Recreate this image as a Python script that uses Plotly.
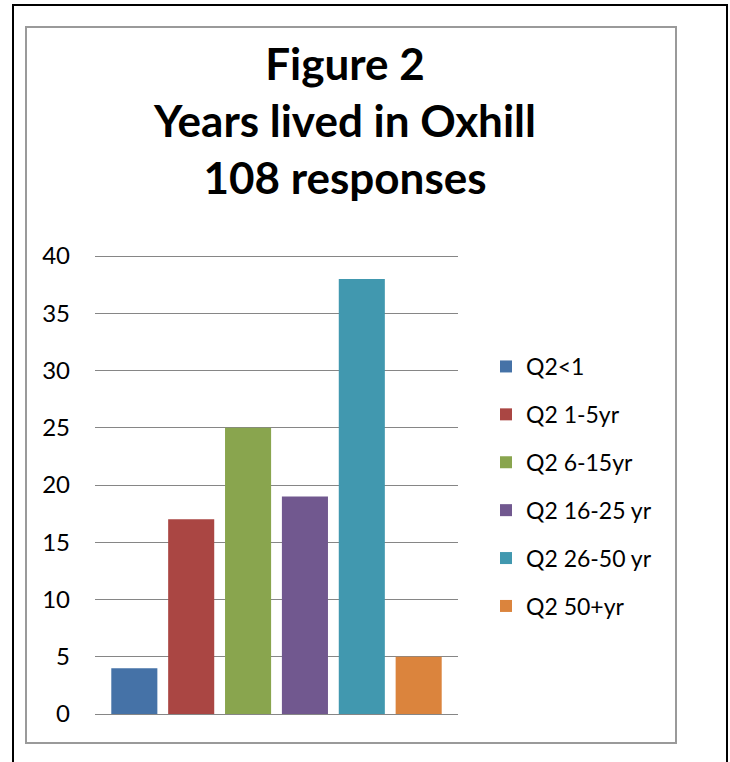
import plotly.graph_objects as go

# ---- data ----
series_names = ["Q2<1", "Q2 1-5yr", "Q2 6-15yr", "Q2 16-25 yr", "Q2 26-50 yr", "Q2 50+yr"]
series_values = [4, 17, 25, 19, 38, 5]
series_colors = ["#4572A7", "#AA4643", "#89A54E", "#71588F", "#4198AF", "#DB843D"]
category = [""]
title_lines = ["Figure 2", "Years lived in Oxhill", "108 responses"]
y_ticks = [0, 5, 10, 15, 20, 25, 30, 35, 40]
y_max = 40

W, H = 730, 762
# pixel rows of value 0 and value 40 in the reference
Y0_PX, YMAX_PX = 714, 256
PX_PER_UNIT = (Y0_PX - YMAX_PX) / y_max
# plot area in screen pixels (top padded by 3px so the 40 gridline is drawn)
SL, SR, ST, SB = 95, 458, YMAX_PX - 3, Y0_PX
range_top = y_max + 3 / PX_PER_UNIT

def px_x(p):
    return (p - SL) / (SR - SL)

def px_y(p):
    return (SB - p) / (SB - ST)

FONT = "Lato, 'Liberation Sans', Arial, sans-serif"

fig = go.Figure()
for name, val, col in zip(series_names, series_values, series_colors):
    fig.add_trace(go.Bar(
        x=category, y=[val], name=name, marker_color=col,
        marker_line_width=0, legendgroup=name,
    ))

fig.update_layout(
    width=W, height=H, autosize=False,
    margin=dict(l=SL, r=W - SR, t=ST, b=H - SB, pad=0),
    paper_bgcolor="white", plot_bgcolor="white",
    barmode="group", bargap=0.06, bargroupgap=0.19,
    font=dict(family=FONT, color="black"),
    title=dict(
        text="<b>" + "<br>".join(title_lines) + "</b>",
        x=345 / W, xanchor="center", xref="container",
        y=1 - 80 / H, yanchor="top",
        font=dict(size=44, family=FONT, color="black"),
    ),
    legend=dict(
        x=px_x(486), xanchor="left", y=px_y(345), yanchor="top",
        font=dict(size=23, family=FONT, color="black"),
        tracegroupgap=15, bgcolor="rgba(0,0,0,0)",
    ),
    showlegend=True,
)
fig.update_xaxes(showticklabels=False, showgrid=False, zeroline=False, showline=False, ticks="")
fig.update_yaxes(
    range=[0, range_top], tickvals=y_ticks, showgrid=True, gridcolor="#868686", gridwidth=1,
    zeroline=True, zerolinecolor="#868686", zerolinewidth=1, showline=False,
    ticks="", ticklabelstandoff=24, tickfont=dict(size=24, family=FONT, color="black"),
)

# outer black frame and inner grey frame
fig.add_shape(type="rect", xref="paper", yref="paper",
              x0=px_x(13), x1=px_x(727), y0=px_y(775), y1=px_y(5),
              line=dict(color="black", width=2), layer="below")
fig.add_shape(type="rect", xref="paper", yref="paper",
              x0=px_x(26), x1=px_x(676), y0=px_y(743), y1=px_y(27),
              line=dict(color="#9a9a9a", width=2), layer="below")

fig.write_html(
    "out.html",
    config={"displayModeBar": False},
    post_script="document.body.style.margin='0';document.body.style.overflow='hidden';",
)
